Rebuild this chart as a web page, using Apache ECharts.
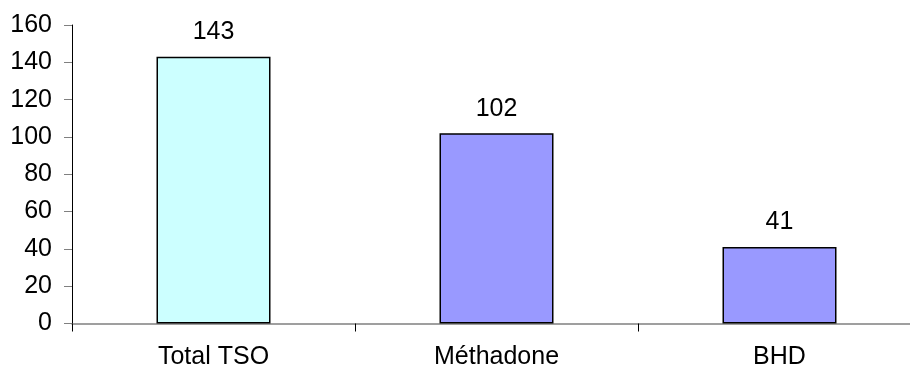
<!DOCTYPE html>
<html><head><meta charset="utf-8">
<script src="https://cdn.jsdelivr.net/npm/echarts@6/dist/echarts.min.js"></script>
<style>html,body{margin:0;padding:0;background:#fff;overflow:hidden;width:910px;height:372px}#c{width:930px;height:372px}</style>
</head><body><div id="c"></div>
<script>
const categories = ["Total TSO", "Méthadone", "BHD"];
const values = [143, 102, 41];
const barColors = ["#ccffff", "#9999ff", "#9999ff"];
const yTicks = [0, 20, 40, 60, 80, 100, 120, 140, 160];

const chart = echarts.init(document.getElementById('c'));
chart.setOption({
  animation: false,
  grid: { left: 72, top: 25, right: 9, bottom: 48.5, containLabel: false, outerBoundsMode: 'none' },
  xAxis: {
    type: 'category', data: categories,
    axisLine: { lineStyle: { color: '#808080', width: 1.5 } },
    axisTick: { show: true, length: 8, lineStyle: { color: '#000' } },
    axisLabel: { color: '#000', fontFamily: 'Liberation Sans, Arial', fontSize: 25, margin: 21 }
  },
  yAxis: {
    type: 'value', min: yTicks[0], max: yTicks[yTicks.length - 1], interval: 20,
    axisLine: { show: true, lineStyle: { color: '#000', width: 1 } },
    axisTick: { show: true, length: 8, lineStyle: { color: '#808080' } },
    splitLine: { show: false },
    axisLabel: { color: '#000', fontFamily: 'Liberation Sans, Arial', fontSize: 25, margin: 20 }
  },
  series: [{
    type: 'bar', barWidth: 114,
    data: values.map((v, i) => ({ value: v, itemStyle: { color: barColors[i] } })),
    itemStyle: { borderColor: '#000', borderWidth: 1.5 },
    label: { show: true, position: 'top', distance: 12, color: '#000', fontFamily: 'Liberation Sans, Arial', fontSize: 25 }
  }]
});
</script></body></html>
